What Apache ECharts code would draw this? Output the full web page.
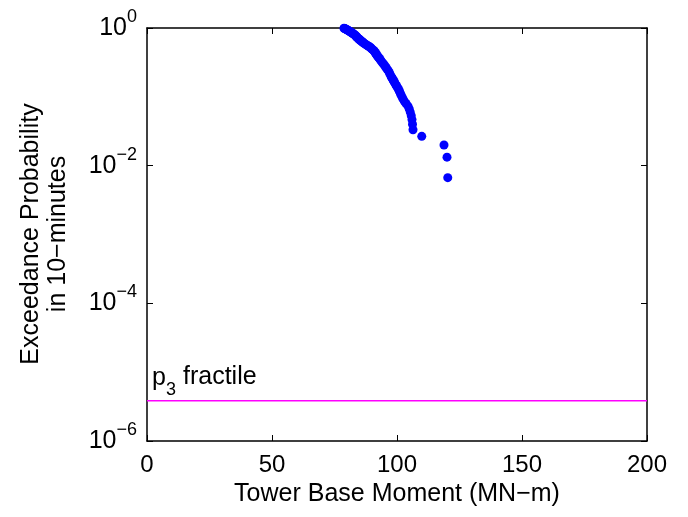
<!DOCTYPE html>
<html>
<head>
<meta charset="utf-8">
<script src="https://cdn.jsdelivr.net/npm/echarts@6/dist/echarts.min.js"></script>
<style>html,body{margin:0;padding:0;background:#fff}#c{width:688px;height:517px}</style>
</head>
<body>
<div id="c"></div>
<script>
// Tower base moment (MN-m) for each sample, and its exceedance probability
const moment = [120.3,120.0,118.8,109.9,106.4,106.2,106.0,105.7,105.3,104.9,
  104.4,103.6,102.9,102.4,102.0,101.6,101.3,101.0,100.7,100.4,
  100.0,99.7,99.4,99.1,98.8,98.6,98.3,98.1,97.8,97.6,
  97.2,96.9,96.5,96.0,95.6,95.2,94.8,94.4,94.0,93.6,
  93.3,93.0,92.6,92.3,92.0,91.8,91.5,91.3,91.0,90.8,
  90.4,90.0,89.7,89.3,89.0,88.5,88.0,87.6,87.2,86.8,
  86.5,86.2,85.9,85.5,85.2,85.0,84.7,84.5,84.2,84.0,
  83.8,83.6,83.4,83.2,83.0,82.7,82.4,82.2,81.9,81.6,
  81.3,81.0,80.8,80.5,80.2,79.9,79.6,79.3,79.0,78.8];
const exceedance = [0.0067,0.0133,0.0200,0.0267,0.0333,0.0400,0.0467,0.0533,0.0600,0.0667,
  0.0733,0.0800,0.0867,0.0933,0.1000,0.1067,0.1133,0.1200,0.1267,0.1333,
  0.1400,0.1467,0.1533,0.1600,0.1667,0.1733,0.1800,0.1867,0.1933,0.2000,
  0.2133,0.2267,0.2400,0.2533,0.2667,0.2800,0.2933,0.3067,0.3200,0.3333,
  0.3467,0.3600,0.3733,0.3867,0.4000,0.4133,0.4267,0.4400,0.4533,0.4667,
  0.4800,0.4933,0.5067,0.5200,0.5333,0.5467,0.5600,0.5733,0.5867,0.6000,
  0.6133,0.6267,0.6400,0.6533,0.6667,0.6800,0.6933,0.7067,0.7200,0.7333,
  0.7467,0.7600,0.7733,0.7867,0.8000,0.8133,0.8267,0.8400,0.8533,0.8667,
  0.8800,0.8933,0.9067,0.9200,0.9333,0.9467,0.9600,0.9733,0.9867,0.9933];
const fractileLevel = 3.85e-6;
const fractileX = [0, 200];
const xTicks = [0, 50, 100, 150, 200];
const yTickExponents = [0, -2, -4, -6];

const FONT = 'Liberation Sans, Arial, sans-serif';
const chart = echarts.init(document.getElementById('c'), null, {renderer: 'canvas'});

const pts = moment.map((m, i) => [m, exceedance[i]]);
const fracLine = fractileX.map(x => [x, fractileLevel]);

function supLabel(v) {
  const e = Math.round(Math.log10(v));
  if (yTickExponents.indexOf(e) < 0) return '';
  return '{b|10}{s|' + (e < 0 ? '\u2212' + (-e) : String(e)) + '}';
}

const axisLine = {show: true, onZero: false, lineStyle: {color: '#000', width: 1.5}};
const tickIn = {show: true, inside: true, length: 6, lineStyle: {color: '#000', width: 1}};

chart.setOption({
  backgroundColor: '#fff',
  animation: false,
  grid: {left: 147, right: 41, top: 28, bottom: 76, containLabel: false, outerBoundsMode: 'none'},
  xAxis: [{
    type: 'value', min: xTicks[0], max: xTicks[xTicks.length - 1], interval: 50,
    position: 'bottom',
    axisLine: axisLine, axisTick: tickIn, splitLine: {show: false},
    axisLabel: {color: '#000', fontSize: 24, fontFamily: FONT, margin: 12},
    name: 'Tower Base Moment (MN\u2212m)', nameLocation: 'middle', nameGap: 41,
    nameTextStyle: {color: '#000', fontSize: 25, fontFamily: FONT}
  }, {
    type: 'value', min: 0, max: 200, interval: 50, position: 'top',
    axisLine: axisLine, axisTick: tickIn, splitLine: {show: false}, axisLabel: {show: false}
  }],
  yAxis: [{
    type: 'log', logBase: 10, min: 1e-6, max: 1, interval: 2,
    position: 'left',
    axisLine: axisLine, axisTick: tickIn, splitLine: {show: false}, minorTick: {show: false},
    axisLabel: {
      color: '#000', fontFamily: FONT, margin: 10, formatter: supLabel,
      rich: {
        b: {fontSize: 25, fontFamily: FONT, color: '#000', lineHeight: 26, verticalAlign: 'middle'},
        s: {fontSize: 18, fontFamily: FONT, color: '#000', lineHeight: 18, padding: [0, 0, 15, 0], verticalAlign: 'bottom'}
      }
    }
  }, {
    type: 'log', logBase: 10, min: 1e-6, max: 1, interval: 2, position: 'right',
    axisLine: axisLine, axisTick: tickIn, splitLine: {show: false}, axisLabel: {show: false}
  }],
  graphic: [{
    type: 'text', x: 45, y: 234, rotation: Math.PI / 2,
    style: {text: 'Exceedance Probability\nin 10\u2212minutes', fill: '#000', font: '25px ' + FONT,
      align: 'center', verticalAlign: 'middle', lineHeight: 27}
  }, {
    type: 'text', x: 152, y: 378,
    style: {text: 'p', fill: '#000', font: '25px ' + FONT, align: 'left', verticalAlign: 'middle'}
  }, {
    type: 'text', x: 166, y: 390,
    style: {text: '3', fill: '#000', font: '18px ' + FONT, align: 'left', verticalAlign: 'middle'}
  }, {
    type: 'text', x: 183, y: 377,
    style: {text: 'fractile', fill: '#000', font: '25px ' + FONT, align: 'left', verticalAlign: 'middle'}
  }],
  series: [{
    type: 'line', data: fracLine, showSymbol: false, symbol: 'none',
    lineStyle: {color: '#FF00FF', width: 1.5}, z: 2
  }, {
    type: 'scatter', data: pts, symbol: 'circle', symbolSize: 9,
    itemStyle: {color: '#0000FF', opacity: 1}, z: 3
  }]
});
</script>
</body>
</html>
